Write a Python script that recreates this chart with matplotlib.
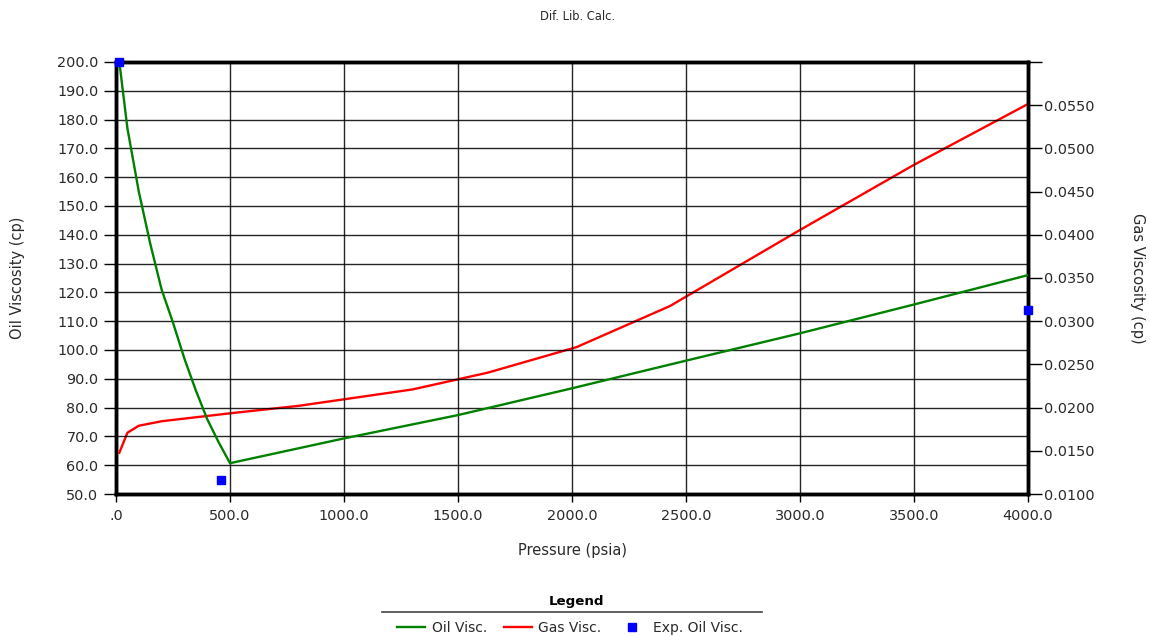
import matplotlib
matplotlib.use('Agg')
import matplotlib.pyplot as plt
from matplotlib.lines import Line2D
from matplotlib.ticker import FixedLocator, FuncFormatter

plt.rcParams['font.family'] = ['DejaVu Sans']

# 油粘度曲线（左轴）
oil_pressure = [14.7, 50, 100, 150, 200, 250, 300, 350, 400, 450, 500,
                1000, 1500, 2000, 2500, 3000, 3500, 4000]
oil_visc = [200.0, 177.0, 155.0, 137.0, 121.0, 109.5, 97.0, 86.0, 76.0, 68.0, 60.7,
            69.3, 77.4, 86.7, 96.3, 105.8, 115.8, 126.0]

# 气粘度曲线（右轴）
gas_pressure = [14.7, 50, 100, 200, 500, 800, 1000, 1300, 1630, 2020, 2430, 3000, 3500, 4000]
gas_visc = [0.01478, 0.01709, 0.01790, 0.01842, 0.01934, 0.02020, 0.02096, 0.02210,
            0.02404, 0.02700, 0.03176, 0.04056, 0.04810, 0.05514]

# 实验测得的油粘度
exp_pressure = [14.7, 460, 4000]
exp_visc = [200.0, 54.9, 113.9]

x_ticks = [0, 500, 1000, 1500, 2000, 2500, 3000, 3500, 4000]
oil_ticks = [50, 60, 70, 80, 90, 100, 110, 120, 130, 140, 150, 160, 170, 180, 190, 200]
gas_ticks = [0.010, 0.015, 0.020, 0.025, 0.030, 0.035, 0.040, 0.045, 0.050, 0.055, 0.060]

TEXT_COLOR = '#2a2a2a'

fig = plt.figure(figsize=(11.5, 6.37), dpi=100)
ax = fig.add_axes([116 / 1150, 1 - 494 / 637, 912 / 1150, 432 / 637])
ax2 = ax.twinx()

ax.set_xlim(0, 4000)
ax.set_ylim(50, 200)
ax2.set_ylim(0.010, 0.060)

ax.xaxis.set_major_locator(FixedLocator(x_ticks))
ax.yaxis.set_major_locator(FixedLocator(oil_ticks))
ax2.yaxis.set_major_locator(FixedLocator(gas_ticks))

def fmt_x(v, pos):
    s = f'{v:.1f}'
    return '.0' if v == 0 else s

def fmt_gas(v, pos):
    # 顶端刻度不标数字
    if v > 0.0575:
        return ''
    return f'{v:.4f}'

ax.xaxis.set_major_formatter(FuncFormatter(fmt_x))
ax.yaxis.set_major_formatter(FuncFormatter(lambda v, p: f'{v:.1f}'))
ax2.yaxis.set_major_formatter(FuncFormatter(fmt_gas))

ax.grid(True, color='black', linewidth=1.0, alpha=0.85)
ax.set_axisbelow(True)

for a in (ax, ax2):
    for sp in a.spines.values():
        sp.set_linewidth(2.5)
        sp.set_color('black')

ax.tick_params(axis='y', direction='out', length=8.6, width=1, colors='black',
               labelcolor=TEXT_COLOR, labelsize=10.4, pad=4)
ax.tick_params(axis='x', direction='out', length=6, width=1, colors='black',
               labelcolor=TEXT_COLOR, labelsize=10.4, pad=5)
ax2.tick_params(axis='y', direction='out', length=10, width=1, colors='black',
                labelcolor=TEXT_COLOR, labelsize=10.4, pad=1.5)

l_oil, = ax.plot(oil_pressure, oil_visc, color='green', linewidth=1.7, label='Oil Visc.', zorder=3)
l_gas, = ax2.plot(gas_pressure, gas_visc, color='red', linewidth=1.7, label='Gas Visc.', zorder=3)
l_exp, = ax.plot(exp_pressure, exp_visc, linestyle='none', marker='s', markersize=6,
                 color='blue', label='Exp. Oil Visc.', clip_on=False, zorder=5)
# 让左轴（含实验点）画在右轴之上
ax.set_zorder(ax2.get_zorder() + 1)
ax.patch.set_visible(False)

fig.text(578 / 1150, 1 - 17 / 637, 'Dif. Lib. Calc.', ha='center', va='center',
         fontsize=8.3, color=TEXT_COLOR)
fig.text(18 / 1150, 1 - 278 / 637, 'Oil Viscosity (cp)', rotation=90, ha='center',
         va='center', fontsize=10.5, color=TEXT_COLOR)
fig.text(1138 / 1150, 1 - 278 / 637, 'Gas Viscosity (cp)', rotation=270, ha='center',
         va='center', fontsize=10.5, color=TEXT_COLOR)
fig.text(572 / 1150, 1 - 551 / 637, 'Pressure (psia)', ha='center', va='center',
         fontsize=10.5, color=TEXT_COLOR)

# 图例
fig.text(577 / 1150, 1 - 602 / 637, 'Legend', ha='center', va='center',
         fontsize=9.6, fontweight='bold', color='black')
fig.add_artist(Line2D([382 / 1150, 762 / 1150], [1 - 612 / 637, 1 - 612 / 637],
                      color='#444444', linewidth=1.2))
fig.legend(handles=[l_oil, l_gas, l_exp], loc='center', ncol=3, frameon=False,
           bbox_to_anchor=(570 / 1150, 1 - 628 / 637), fontsize=10.0,
           handlelength=2.0, handletextpad=0.5, columnspacing=1.2,
           labelcolor=TEXT_COLOR, borderpad=0)

fig.savefig('out.png', dpi=100)
